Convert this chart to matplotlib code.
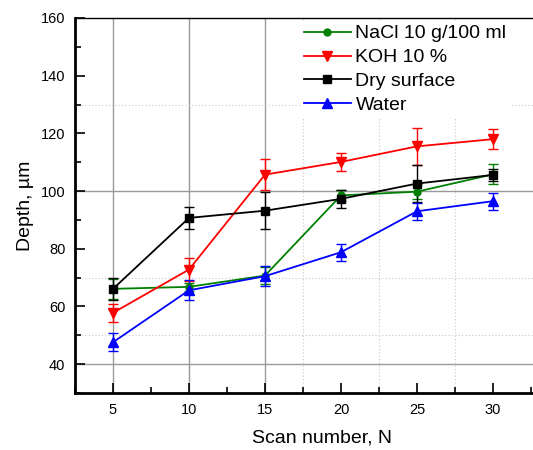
import numpy as np
import matplotlib
matplotlib.use('Agg')
import matplotlib.pyplot as plt

plt.rcParams['font.family'] = ['Liberation Sans', 'DejaVu Sans']

scans = [5, 10, 15, 20, 25, 30]

nacl = [66.1, 66.8, 70.7, 98.5, 99.8, 105.8]
nacl_err = [3.5, 1.5, 3.0, 2.0, 2.5, 3.5]
koh = [57.8, 72.8, 105.7, 110.1, 115.5, 118.0]
koh_err = [3.2, 4.0, 5.5, 3.0, 6.3, 3.4]
dry = [66.1, 90.7, 93.2, 97.3, 102.6, 105.6]
dry_err = [3.7, 3.8, 6.5, 3.0, 6.4, 2.0]
water = [47.6, 65.6, 70.5, 78.8, 93.0, 96.5]
water_err = [3.2, 3.5, 3.5, 3.0, 3.0, 3.0]

fig = plt.figure(figsize=(5.33, 4.5), dpi=100)
ax = fig.add_axes([75 / 533, 57 / 450, 494 / 533, 375 / 450])

# odd grid as seen in the figure
for x in [5, 10, 15]:
    ax.axvline(x, color='#9a9a9a', lw=1.0, zorder=0)
for x in [17.5, 22.5, 27.5]:
    ax.axvline(x, color='#c8c8c8', lw=0.8, ls=(0, (1, 2)), zorder=0)
for y in [40, 100]:
    ax.axhline(y, color='#9a9a9a', lw=1.0, zorder=0)
for y in [50, 70, 130]:
    ax.axhline(y, color='#c8c8c8', lw=0.8, ls=(0, (1, 2)), zorder=0)

series = [
    ('NaCl 10 g/100 ml', nacl, nacl_err, 'o', '#008000', 5),
    ('KOH 10 %', koh, koh_err, 'v', '#ff0000', 7),
    ('Dry surface', dry, dry_err, 's', 'black', 6),
    ('Water', water, water_err, '^', '#0000ff', 7),
]
handles = []
for label, vals, err, m, c, ms in series:
    eb = ax.errorbar(scans, vals, yerr=err, fmt='-', marker=m, color=c, ms=ms,
                     lw=1.3, elinewidth=1.0, capsize=3.5, capthick=1.0,
                     label=label)
    handles.append(eb[0])

ax.set_xlim(2.5, 35)
ax.set_ylim(30, 160)
ax.set_xticks(scans)
ax.set_xticks(np.arange(2.5, 35, 2.5), minor=True)
ax.set_yticks(np.arange(40, 161, 20))
ax.set_yticks(np.arange(30, 161, 10), minor=True)
ax.tick_params(which='both', direction='in', labelsize=10.5, width=1.2)
ax.tick_params(which='major', length=7, pad=7)
ax.tick_params(which='minor', length=4)
ax.tick_params(axis='y', which='both', right=False)

for s in ['left', 'bottom']:
    ax.spines[s].set_linewidth(2.0)
ax.spines['top'].set_linewidth(1.0)

ax.set_xlabel('Scan number, N', fontsize=14, labelpad=9)
ax.set_ylabel('Depth, µm', fontsize=14, labelpad=5)

leg = ax.legend(handles, [s[0] for s in series], loc='upper left',
                bbox_to_anchor=(300 / 533, 1 - 21 / 450),
                bbox_transform=fig.transFigure, fontsize=14, frameon=True,
                fancybox=False, edgecolor='none', framealpha=1,
                handlelength=2.4, handletextpad=0.25, labelspacing=0.32,
                borderpad=0.2, borderaxespad=0)

fig.savefig('out.png', dpi=100)
